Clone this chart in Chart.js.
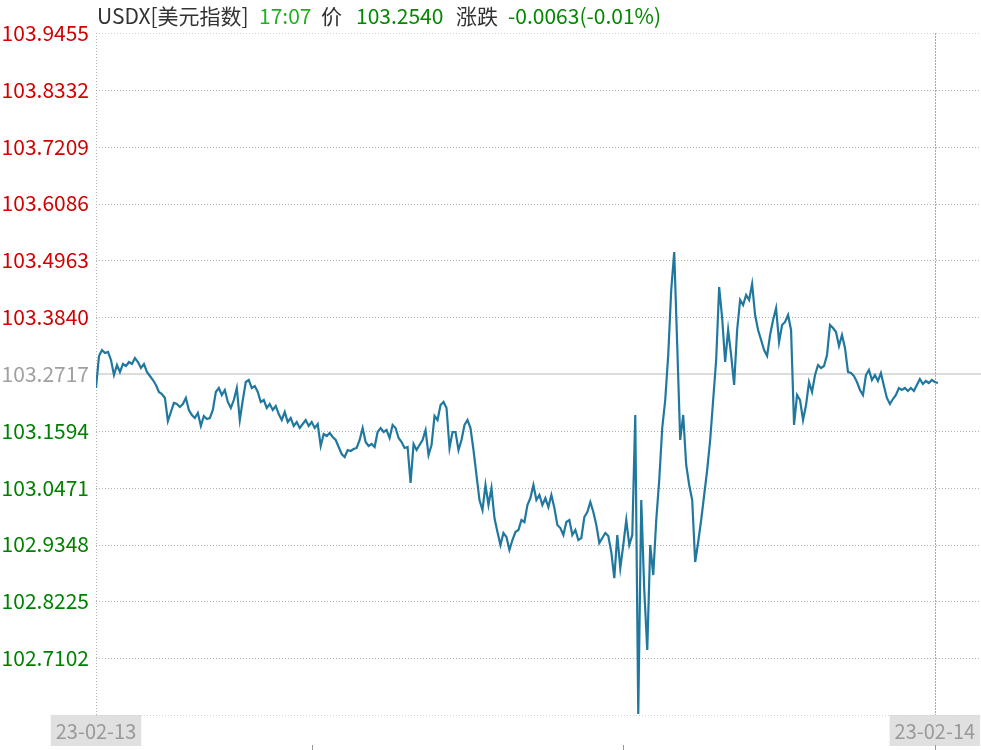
<!DOCTYPE html>
<html>
<head>
<meta charset="utf-8">
<script src="https://cdn.jsdelivr.net/npm/chart.js@4.4.0/dist/chart.umd.min.js"></script>
<style>
  html, body { margin: 0; padding: 0; background: #fff; }
  #wrap { position: relative; width: 981px; height: 750px; }
  #title span { position: absolute; top: 5px; font: 21px/21px "Microsoft YaHei", "Noto Sans CJK SC", sans-serif; white-space: nowrap; }
  canvas { position: absolute; left: 0; top: 0; }
</style>
</head>
<body>
<div id="wrap">
  <canvas id="c" width="981" height="750"></canvas>
  <div id="title">
    <span style="left:97px;color:#333;">USDX[美元指数]</span>
    <span style="left:259px;color:#22b022;">17:07</span>
    <span style="left:321px;color:#333;">价</span>
    <span style="left:356px;color:#008800;">103.2540</span>
    <span style="left:456px;color:#333;">涨跌</span>
    <span style="left:508px;color:#008800;">-0.0063(-0.01%)</span>
  </div>
</div>
<script>
// ---- data ----
const prevClose = 103.2717;
const yTicks = [102.5979, 102.7102, 102.8225, 102.9348, 103.0471, 103.1594, 103.2717, 103.3840, 103.4963, 103.6086, 103.7209, 103.8332, 103.9455];
const yTickLabels = ['', '102.7102', '102.8225', '102.9348', '103.0471', '103.1594', '103.2717', '103.3840', '103.4963', '103.6086', '103.7209', '103.8332', '103.9455'];
const dateLabels = ['23-02-13', '23-02-14'];
const dateTickIdx = [0, 280];
const minorTickIdx = [72, 176, 280];
const xMaxIdx = 295.4;
const seriesValues = [
  103.2440, 103.3073, 103.3191, 103.3132, 103.3152, 103.2994, 103.2697, 103.2895, 103.2757, 103.2915,
  103.2875, 103.2954, 103.2915, 103.3033, 103.2954, 103.2836, 103.2915, 103.2757, 103.2677, 103.2598,
  103.2500, 103.2361, 103.2322, 103.2243, 103.1788, 103.1966, 103.2144, 103.2124, 103.2065, 103.2124,
  103.2243, 103.2006, 103.1907, 103.1847, 103.1946, 103.1689, 103.1887, 103.1828, 103.1847, 103.2006,
  103.2361, 103.2440, 103.2302, 103.2401, 103.2164, 103.2045, 103.2203, 103.2440, 103.1808, 103.2203,
  103.2559, 103.2598, 103.2440, 103.2480, 103.2361, 103.2164, 103.2203, 103.2045, 103.2124, 103.2006,
  103.2085, 103.1926, 103.1808, 103.1966, 103.1768, 103.1847, 103.1689, 103.1768, 103.1650, 103.1729,
  103.1808, 103.1689, 103.1768, 103.1650, 103.1729, 103.1294, 103.1531, 103.1492, 103.1551, 103.1472,
  103.1413, 103.1274, 103.1136, 103.1077, 103.1215, 103.1195, 103.1235, 103.1255, 103.1413, 103.1650,
  103.1373, 103.1294, 103.1334, 103.1274, 103.1571, 103.1650, 103.1571, 103.1610, 103.1452, 103.1709,
  103.1650, 103.1452, 103.1373, 103.1255, 103.1274, 103.0563, 103.1334, 103.1215, 103.1314, 103.1413,
  103.1610, 103.1116, 103.1314, 103.1887, 103.1808, 103.2104, 103.2164, 103.2045, 103.1255, 103.1571,
  103.1571, 103.1215, 103.1413, 103.1709, 103.1808, 103.1650, 103.1215, 103.0721, 103.0227, 103.0029,
  103.0523, 103.0128, 103.0464, 102.9871, 102.9594, 102.9338, 102.9575, 102.9496, 102.9239, 102.9436,
  102.9594, 102.9634, 102.9832, 102.9792, 103.0128, 103.0266, 103.0523, 103.0227, 103.0326, 103.0128,
  103.0266, 103.0089, 103.0326, 103.0069, 102.9733, 102.9673, 102.9535, 102.9792, 102.9832, 102.9535,
  102.9634, 102.9436, 102.9476, 102.9891, 102.9990, 103.0187, 102.9990, 102.9733, 102.9377, 102.9476,
  102.9575, 102.9515, 102.9199, 102.8685, 102.9535, 102.8883, 102.9338, 102.9832, 102.9338, 102.9535,
  103.1907, 102.5998, 103.0227, 102.8448, 102.7262, 102.9338, 102.8745, 102.9832, 103.0622, 103.1650,
  103.2203, 103.3092, 103.4377, 103.5128, 103.3290, 103.1413, 103.1907, 103.0919, 103.0523, 103.0227,
  102.9002, 102.9397, 102.9832, 103.0326, 103.0820, 103.1413, 103.2203, 103.2994, 103.4436, 103.3824,
  103.2954, 103.3587, 103.3092, 103.2500, 103.3587, 103.4179, 103.4081, 103.4278, 103.4179, 103.4496,
  103.3883, 103.3587, 103.3389, 103.3191, 103.3073, 103.3488, 103.3784, 103.4021, 103.3349, 103.3685,
  103.3745, 103.3883, 103.3587, 103.1709, 103.2302, 103.2203, 103.1808, 103.2104, 103.2559, 103.2361,
  103.2697, 103.2895, 103.2836, 103.2875, 103.3092, 103.3685, 103.3626, 103.3547, 103.3270, 103.3488,
  103.3231, 103.2757, 103.2737, 103.2677, 103.2559, 103.2401, 103.2302, 103.2697, 103.2796, 103.2598,
  103.2697, 103.2579, 103.2737, 103.2480, 103.2243, 103.2124, 103.2223, 103.2302, 103.2440, 103.2401,
  103.2440, 103.2381, 103.2440, 103.2381, 103.2500, 103.2618, 103.2519, 103.2579, 103.2539, 103.2598,
  103.2559, 103.2540
];

const FONT = '"Microsoft YaHei", "Noto Sans CJK SC", sans-serif';

const gridPlugin = {
  id: 'gridPlugin',
  beforeDatasetsDraw(chart) {
    const { ctx, chartArea: a, scales: { x, y } } = chart;
    ctx.save();
    yTicks.forEach((v, i) => {
      const py = Math.round(y.getPixelForValue(v)) + 0.5;
      ctx.beginPath();
      if (Math.abs(v - prevClose) < 1e-6) {
        ctx.setLineDash([]);
        ctx.strokeStyle = '#dcdcdc';
        ctx.lineWidth = 2;
        ctx.moveTo(a.left, py - 0.5); ctx.lineTo(a.right, py - 0.5);
      } else {
        ctx.setLineDash([1, 2]);
        ctx.strokeStyle = (i === 0 || i === yTicks.length - 1) ? '#d0d0d0' : '#b4b4b4';
        ctx.lineWidth = 1;
        ctx.moveTo(a.left, py); ctx.lineTo(a.right, py);
      }
      ctx.stroke();
    });
    ctx.setLineDash([1, 2]);
    ctx.strokeStyle = '#b4b4b4';
    ctx.lineWidth = 1;
    ctx.beginPath();
    ctx.moveTo(a.left + 0.5, a.top); ctx.lineTo(a.left + 0.5, a.bottom);
    ctx.stroke();
    const dx = Math.round(x.getPixelForValue(dateTickIdx[1])) + 0.5;
    ctx.setLineDash([2, 1]);
    ctx.strokeStyle = '#a8a8a8';
    ctx.beginPath();
    ctx.moveTo(dx, a.top); ctx.lineTo(dx, a.bottom);
    ctx.stroke();
    ctx.setLineDash([]);
    ctx.strokeStyle = '#999';
    minorTickIdx.forEach(t => {
      const px = Math.round(x.getPixelForValue(t)) + 0.5;
      ctx.beginPath();
      ctx.moveTo(px, chart.height - 5); ctx.lineTo(px, chart.height);
      ctx.stroke();
    });
    ctx.restore();
  }
};

new Chart(document.getElementById('c'), {
  type: 'line',
  data: {
    datasets: [{
      data: seriesValues.map((v, i) => ({ x: i, y: v })),
      borderColor: '#21789f',
      borderWidth: 2.2,
      pointRadius: 0,
      tension: 0,
      fill: false
    }]
  },
  options: {
    responsive: false,
    devicePixelRatio: 1,
    animation: false,
    layout: { padding: { top: 33, right: 0, bottom: 0, left: 0 } },
    plugins: { legend: { display: false }, tooltip: { enabled: false }, title: { display: false } },
    scales: {
      x: {
        type: 'linear',
        min: 0,
        max: xMaxIdx,
        grid: { display: false, drawTicks: false },
        border: { display: false },
        afterBuildTicks(s) { s.ticks = dateTickIdx.map(v => ({ value: v })); },
        afterFit(s) { s.height = 35; },
        ticks: {
          autoSkip: false,
          maxRotation: 0,
          padding: 4,
          color: '#999',
          font: { family: FONT, size: 20 },
          showLabelBackdrop: true,
          backdropColor: '#e0e0e0',
          backdropPadding: { top: 4, bottom: 3, left: 5, right: 5 },
          callback(v) { const k = dateTickIdx.indexOf(v); return k >= 0 ? dateLabels[k] : ''; }
        }
      },
      y: {
        type: 'linear',
        min: yTicks[0],
        max: yTicks[yTicks.length - 1],
        grid: { display: false, drawTicks: false },
        border: { display: false },
        afterBuildTicks(s) { s.ticks = yTicks.map(v => ({ value: v })); },
        afterFit(s) { s.width = 96; },
        ticks: {
          autoSkip: false,
          padding: 7,
          font: { family: FONT, size: 21 },
          color(ctx) {
            const v = ctx.tick.value;
            if (Math.abs(v - prevClose) < 1e-6) return '#a0a0a0';
            return v > prevClose ? '#d20000' : '#008000';
          },
          callback(v, i) { return yTickLabels[i]; }
        }
      }
    }
  },
  plugins: [gridPlugin]
});
</script>
</body>
</html>
